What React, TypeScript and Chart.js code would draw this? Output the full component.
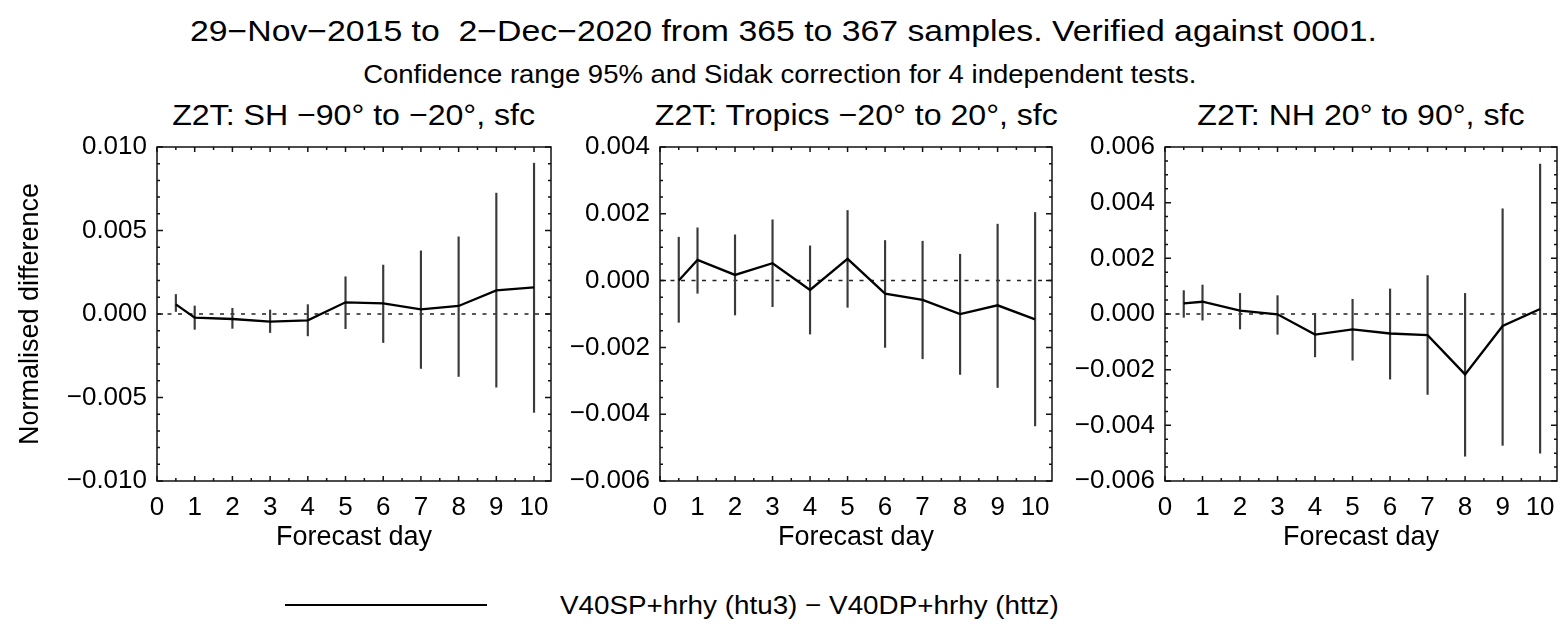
import React, { useEffect, useRef } from "react";
import { Chart, registerables } from "chart.js";

Chart.register(...registerables);

// ---------------- data ----------------
const forecastDays = [0.5, 1, 2, 3, 4, 5, 6, 7, 8, 9, 10];
const xTickValues = [0, 1, 2, 3, 4, 5, 6, 7, 8, 9, 10];
const xRange = [0, 10.45];

const shMean = [0.00058, -0.00022, -0.0003, -0.00046, -0.00038, 0.0007, 0.00064, 0.00028, 0.00048, 0.00141, 0.00159];
const shLow = [0.00015, -0.00092, -0.00086, -0.00111, -0.00131, -0.00088, -0.00171, -0.00326, -0.00374, -0.00438, -0.00589];
const shHigh = [0.00117, 0.00048, 0.00034, 0.00024, 0.00056, 0.00223, 0.00293, 0.00378, 0.00462, 0.00724, 0.00903];

const tropMean = [0.0, 0.00062, 0.00017, 0.00052, -0.00028, 0.00065, -0.00039, -0.00058, -0.001, -0.00074, -0.00116];
const tropLow = [-0.00125, -0.00038, -0.00103, -0.00078, -0.0016, -0.0008, -0.002, -0.00234, -0.00281, -0.0032, -0.00435];
const tropHigh = [0.0013, 0.00158, 0.00137, 0.00182, 0.00104, 0.0021, 0.0012, 0.00118, 0.00079, 0.00169, 0.00204];

const nhMean = [0.00038, 0.00044, 0.00012, -0.00001, -0.00074, -0.00055, -0.0007, -0.00076, -0.00217, -0.00043, 0.00018];
const nhLow = [-0.00012, -0.00022, -0.00054, -0.00073, -0.00154, -0.00166, -0.00234, -0.00289, -0.00511, -0.00472, -0.005];
const nhHigh = [0.00084, 0.00104, 0.00074, 0.00066, 0.00002, 0.00053, 0.0009, 0.00138, 0.00074, 0.00378, 0.00539];

const yTicksSH = [-0.01, -0.005, 0, 0.005, 0.01];
const yTicksTrop = [-0.006, -0.004, -0.002, 0, 0.002, 0.004];
const yTicksNH = [-0.006, -0.004, -0.002, 0, 0.002, 0.004, 0.006];

const mainTitle = "29\u2212Nov\u22122015 to  2\u2212Dec\u22122020 from 365 to 367 samples. Verified against 0001.";
const subTitle = "Confidence range 95% and Sidak correction for 4 independent tests.";
const panelTitles = [
  "Z2T: SH \u221290\u00b0 to \u221220\u00b0, sfc",
  "Z2T: Tropics \u221220\u00b0 to 20\u00b0, sfc",
  "Z2T: NH 20\u00b0 to 90\u00b0, sfc",
];
const xAxisTitle = "Forecast day";
const yAxisTitle = "Normalised difference";
const legendLabel = "V40SP+hrhy (htu3) \u2212 V40DP+hrhy (httz)";

// ---------------- layout / style ----------------
const FONT = '"Liberation Sans", Arial, Helvetica, sans-serif';

const panels = [
  { title: panelTitles[0], mean: shMean, lo: shLow, hi: shHigh, yMin: -0.01, yMax: 0.01, yTicks: yTicksSH, yMinor: 0.001,
    left: 0, width: 560, yAxisWidth: 157, padRight: 9, showYTitle: true, titleCenter: 354 },
  { title: panelTitles[1], mean: tropMean, lo: tropLow, hi: tropHigh, yMin: -0.006, yMax: 0.004, yTicks: yTicksTrop, yMinor: 0.0005,
    left: 560, width: 500, yAxisWidth: 100, padRight: 8, showYTitle: false, titleCenter: 856 },
  { title: panelTitles[2], mean: nhMean, lo: nhLow, hi: nhHigh, yMin: -0.006, yMax: 0.006, yTicks: yTicksNH, yMinor: 0.0005,
    left: 1060, width: 500, yAxisWidth: 105, padRight: 3, showYTitle: false, titleCenter: 1361 },
];

const CANVAS_TOP = 100;
const CANVAS_H = 460;

function fmtY(v: number) {
  if (Math.abs(v) < 1e-12) return "0.000";
  return (v < 0 ? "\u2212" : "") + Math.abs(v).toFixed(3);
}

const framePlugin = {
  id: "idlFrame",
  afterDatasetsDraw(chart: any, _args: any, opts: any) {
    const { ctx, chartArea, scales } = chart;
    const { left, right, top, bottom } = chartArea;
    const xs = scales.x;
    const ys = scales.y;
    ctx.save();
    ctx.strokeStyle = "#111";
    ctx.lineWidth = 1.5;
    ctx.strokeRect(left, top, right - left, bottom - top);
    ctx.beginPath();
    const eps = 1e-9;
    for (let v = xs.min; v <= xs.max + eps; v += opts.xMinor) {
      const p = xs.getPixelForValue(v);
      const isMajor = Math.abs(v - Math.round(v)) < 1e-6;
      const len = isMajor ? 5 : 3;
      ctx.moveTo(p, bottom);
      ctx.lineTo(p, bottom - len);
      ctx.moveTo(p, top);
      ctx.lineTo(p, top + len);
    }
    const nMinor = Math.round((ys.max - ys.min) / opts.yMinor);
    const majors: number[] = ys.ticks.map((t: any) => t.value);
    for (let i = 0; i <= nMinor; i++) {
      const v = ys.min + i * opts.yMinor;
      const p = ys.getPixelForValue(v);
      const isMajor = majors.some((m) => Math.abs(m - v) < opts.yMinor * 0.01);
      const len = isMajor ? 6 : 3;
      ctx.moveTo(left, p);
      ctx.lineTo(left + len, p);
      ctx.moveTo(right, p);
      ctx.lineTo(right - len, p);
    }
    ctx.stroke();
    ctx.restore();
  },
};

function Panel({ cfg }: { cfg: (typeof panels)[number] }) {
  const ref = useRef<HTMLCanvasElement | null>(null);
  useEffect(() => {
    if (!ref.current) return;
    const chart = new Chart(ref.current, {
      type: "line",
      data: {
        datasets: [
          {
            type: "line",
            label: "mean",
            data: forecastDays.map((d, i) => ({ x: d, y: cfg.mean[i] })),
            borderColor: "#000",
            borderWidth: 2.3,
            pointRadius: 0,
            tension: 0,
            fill: false,
            order: 0,
          } as any,
          {
            type: "bar",
            label: "range",
            data: forecastDays.map((d, i) => ({ x: d, y: [cfg.lo[i], cfg.hi[i]] })),
            backgroundColor: "#3a3a3a",
            borderWidth: 0,
            barThickness: 1.5,
            order: 1,
          } as any,
          {
            type: "line",
            label: "zero",
            data: [{ x: xRange[0], y: 0 }, { x: xRange[1], y: 0 }],
            borderColor: "#222",
            borderWidth: 1.5,
            borderDash: [4, 6.5],
            pointRadius: 0,
            fill: false,
            order: 2,
          } as any,
        ],
      },
      options: {
        animation: false,
        responsive: false,
        devicePixelRatio: 1,
        layout: { padding: { top: 47, right: cfg.padRight, bottom: 0, left: 0 } },
        plugins: {
          legend: { display: false },
          tooltip: { enabled: false },
          title: { display: false },
          idlFrame: { xMinor: 0.5, yMinor: cfg.yMinor },
        } as any,
        scales: {
          x: {
            type: "linear",
            min: xRange[0],
            max: xRange[1],
            offset: false,
            grid: { display: false, drawTicks: false, tickLength: 0 },
            border: { display: false },
            afterBuildTicks: (s: any) => {
              s.ticks = xTickValues.map((v) => ({ value: v }));
            },
            afterFit: (s: any) => {
              s.height = 79;
              s.paddingLeft = 0;
              s.paddingRight = 0;
            },
            ticks: {
              autoSkip: false,
              maxRotation: 0,
              minRotation: 0,
              padding: 11,
              color: "#000",
              font: { family: FONT, size: 26 },
              callback: (v: any) => String(v),
            },
            title: {
              display: true,
              text: xAxisTitle,
              color: "#000",
              font: { family: FONT, size: 27 },
              padding: { top: 0, bottom: 6 },
            },
          } as any,
          y: {
            type: "linear",
            min: cfg.yMin,
            max: cfg.yMax,
            grid: { display: false, drawTicks: false, tickLength: 0 },
            border: { display: false },
            afterBuildTicks: (s: any) => {
              s.ticks = cfg.yTicks.map((v) => ({ value: v }));
            },
            afterFit: (s: any) => {
              s.width = cfg.yAxisWidth;
              s.paddingTop = 0;
              s.paddingBottom = 0;
            },
            ticks: {
              padding: 10,
              color: "#000",
              font: { family: FONT, size: 26 },
              callback: (v: any) => fmtY(Number(v)),
            },
            title: {
              display: cfg.showYTitle,
              text: yAxisTitle,
              color: "#000",
              font: { family: FONT, size: 27 },
              padding: { top: 14, bottom: 0 },
            },
          } as any,
        },
      },
      plugins: [framePlugin as any],
    });
    return () => chart.destroy();
  }, [cfg]);
  return (
    <canvas
      ref={ref}
      width={cfg.width}
      height={CANVAS_H}
      style={{ position: "absolute", left: cfg.left, top: CANVAS_TOP, width: cfg.width, height: CANVAS_H, display: "block" }}
    />
  );
}

function Label({ text, center, top, size, sx }: { text: string; center: number; top: number; size: number; sx: number }) {
  return (
    <div
      style={{
        position: "absolute",
        left: center - 700,
        width: 1400,
        top,
        textAlign: "center",
        fontSize: size,
        lineHeight: `${size}px`,
        whiteSpace: "pre",
        color: "#000",
      }}
    >
      <span style={{ display: "inline-block", transform: `scaleX(${sx})` }}>{text}</span>
    </div>
  );
}

export default function App() {
  return (
    <div
      style={{
        position: "absolute",
        left: 0,
        top: 0,
        width: 1560,
        height: 644,
        background: "#fff",
        fontFamily: FONT,
        overflow: "hidden",
      }}
    >
      <Label text={mainTitle} center={783} top={17} size={29} sx={1.165} />
      <Label text={subTitle} center={780} top={62} size={25} sx={1.1} />
      {panels.map((p, i) => (
        <Label key={"t" + i} text={p.title} center={p.titleCenter} top={100} size={30} sx={1.07} />
      ))}
      {panels.map((p, i) => (
        <Panel key={i} cfg={p} />
      ))}
      <div style={{ position: "absolute", left: 285, top: 604, width: 202, height: 2, background: "#000" }} />
      <div
        style={{
          position: "absolute",
          left: 560,
          top: 592,
          fontSize: 26,
          lineHeight: "26px",
          whiteSpace: "pre",
          transformOrigin: "0 50%",
          transform: "scaleX(1.07)",
          color: "#000",
        }}
      >
        {legendLabel}
      </div>
    </div>
  );
}
